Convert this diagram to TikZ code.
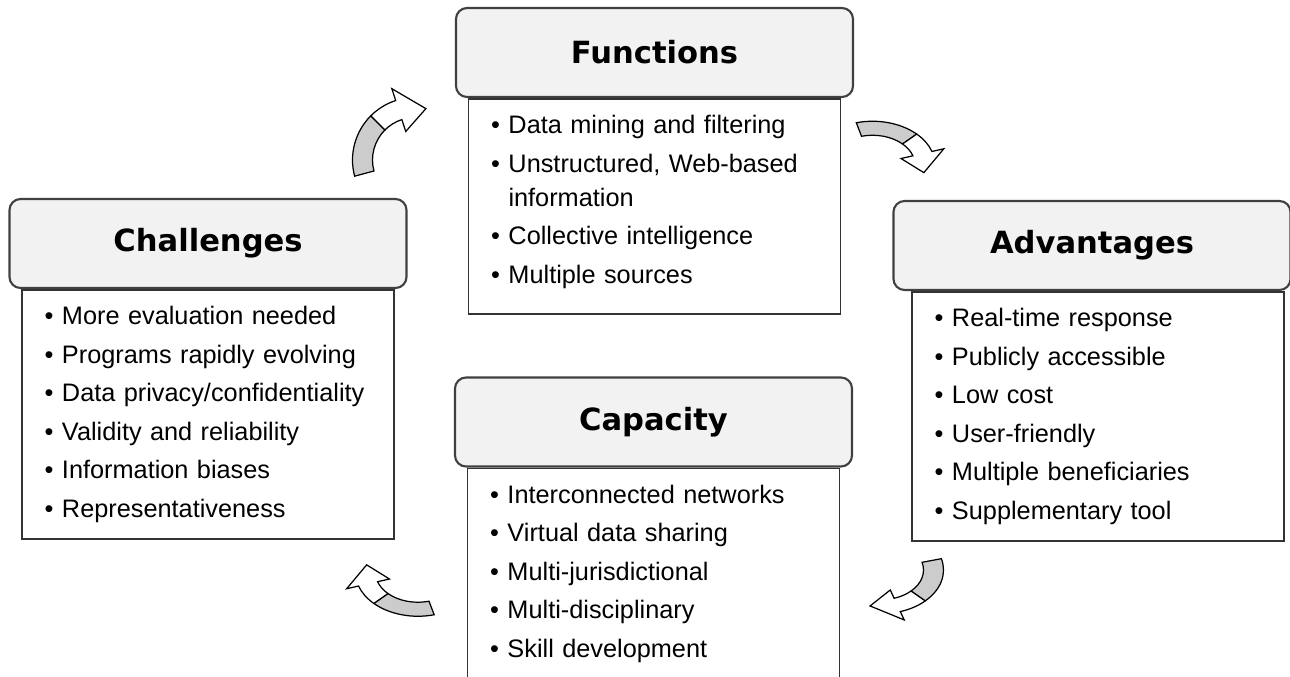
\documentclass[tikz,border=0pt]{standalone}
\usepackage{fontspec}
\setmainfont{Liberation Sans}
\newfontfamily\headfamily{DejaVu Sans}
\usepackage{tikz}
\usetikzlibrary{positioning}
\definecolor{headgray}{gray}{0.95}
\definecolor{arrowgray}{gray}{0.8}
\newcommand{\bul}{\makebox[0.35cm][l]{\textbullet}}
\tikzstyle{headbox} = [rectangle, rounded corners=2.2mm, draw=black!75, line width=1.2pt, fill=headgray, minimum width=7.94cm, minimum height=1.78cm, font=\headfamily\bfseries\fontsize{17.4}{20}\selectfont]
\tikzstyle{listbox} = [rectangle, draw=black!80, line width=0.9pt, fill=white, text width=6.54cm, inner xsep=4.5mm, inner ysep=9.5pt, align=left, font=\fontsize{14.4}{19.4}\selectfont]

\begin{document}
\begin{tikzpicture}[
cyclearrow/.pic={
  \filldraw[fill=arrowgray, line width=0.7pt] (195:0.85) arc[start angle=195, end angle=135, radius=0.85] -- (135:1.25) arc[start angle=135, end angle=195, radius=1.25] -- cycle;
  \filldraw[fill=white, line width=0.7pt] (135:0.85) arc[start angle=135, end angle=108, radius=0.85] -- (108:0.6) -- (78:1.05) -- (108:1.5) -- (108:1.25) arc[start angle=108, end angle=135, radius=1.25] -- cycle;
}
]
\useasboundingbox (0,0) rectangle (25.8,-13.54);

\node[headbox] (F) at (13.09,-1.05) {Functions};
\node[listbox, below=0pt of F] (F1) {\bul Data mining and filtering\\[2.5pt]
\bul Unstructured, Web-based\\
\hspace*{0.35cm}information\\[2.5pt]
\bul Collective intelligence\\[2.5pt]
\bul Multiple sources\rule[-8pt]{0pt}{8pt}};

\node[headbox] (Ch) at (4.16,-4.87) {Challenges};
\node[listbox, below=0pt of Ch] (Ch1) {\bul More evaluation needed\\[2.5pt]
\bul Programs rapidly evolving\\[2.5pt]
\bul Data privacy/confidentiality\\[2.5pt]
\bul Validity and reliability\\[2.5pt]
\bul Information biases\\[2.5pt]
\bul Representativeness};

\node[headbox] (Ad) at (21.84,-4.91) {Advantages};
\node[listbox, below=0pt of Ad, xshift=1.2mm] (Ad1) {\bul Real-time response\\[2.5pt]
\bul Publicly accessible\\[2.5pt]
\bul Low cost\\[2.5pt]
\bul User-friendly\\[2.5pt]
\bul Multiple beneficiaries\\[2.5pt]
\bul Supplementary tool};

\node[headbox] (Ca) at (13.07,-8.44) {Capacity};
\node[listbox, below=0pt of Ca] (Ca1) {\bul Interconnected networks\\[2.5pt]
\bul Virtual data sharing\\[2.5pt]
\bul Multi-jurisdictional\\[2.5pt]
\bul Multi-disciplinary\\[2.5pt]
\bul Skill development\rule[-3cm]{0pt}{3cm}};

% cycle arrows
\pic at (8.3,-3.2) {cyclearrow};
\pic[yscale=0.7, rotate=-90] at (17.45,-3.3) {cyclearrow};
\pic[yscale=0.7, rotate=90] at (8.36,-11.45) {cyclearrow};
\pic[yscale=0.7, rotate=180] at (17.62,-11.4) {cyclearrow};
\end{tikzpicture}
\end{document}
